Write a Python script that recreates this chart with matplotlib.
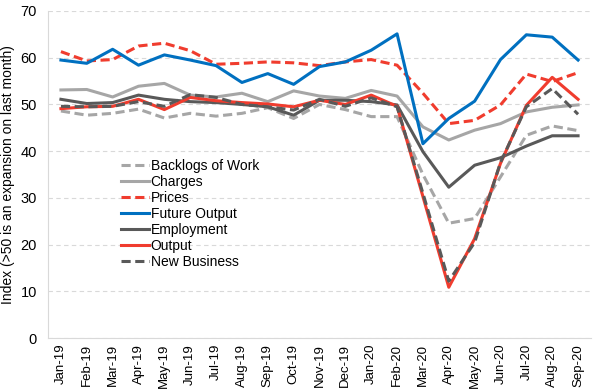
import matplotlib
matplotlib.use("Agg")
import matplotlib.pyplot as plt
import numpy as np

plt.rcParams['font.family'] = ['Liberation Sans', 'DejaVu Sans']

months = ['Jan-19', 'Feb-19', 'Mar-19', 'Apr-19', 'May-19', 'Jun-19', 'Jul-19',
          'Aug-19', 'Sep-19', 'Oct-19', 'Nov-19', 'Dec-19', 'Jan-20', 'Feb-20',
          'Mar-20', 'Apr-20', 'May-20', 'Jun-20', 'Jul-20', 'Aug-20', 'Sep-20']

backlogs = [48.6, 47.7, 48.1, 49.0, 47.1, 48.1, 47.5, 48.1, 49.3, 47.0, 50.0,
            48.9, 47.4, 47.4, 35.0, 24.6, 25.6, 34.5, 43.4, 45.4, 44.4]
charges = [53.1, 53.2, 51.6, 53.9, 54.5, 52.0, 51.6, 52.4, 50.6, 52.9, 51.8,
           51.3, 53.0, 51.8, 45.2, 42.4, 44.5, 45.9, 48.4, 49.4, 49.9]
prices = [61.3, 59.3, 59.6, 62.5, 63.1, 61.5, 58.6, 58.8, 59.1, 58.9, 58.3,
          59.1, 59.6, 58.4, 52.4, 45.9, 46.6, 49.9, 56.5, 54.9, 56.8]
future_output = [59.5, 58.8, 61.8, 58.4, 60.6, 59.5, 58.3, 54.7, 56.6, 54.3, 58.1,
                 59.1, 61.6, 65.1, 41.6, 47.0, 50.7, 59.6, 64.9, 64.4, 59.5]
employment = [51.1, 50.2, 50.4, 52.0, 51.1, 50.6, 50.4, 50.0, 49.5, 47.7, 50.9,
              50.9, 50.6, 49.9, 39.9, 32.3, 37.0, 38.6, 41.1, 43.3, 43.3]
output = [49.1, 49.5, 49.6, 51.1, 48.9, 51.5, 50.8, 50.4, 50.1, 49.5, 50.9,
          50.0, 52.0, 49.6, 30.3, 10.9, 21.3, 37.4, 49.8, 55.8, 51.1]
new_business = [49.6, 49.5, 49.6, 50.6, 49.6, 52.1, 51.5, 50.0, 49.5, 48.8, 51.1,
                49.6, 51.4, 49.5, 31.0, 12.2, 20.5, 37.6, 49.5, 53.4, 47.9]

x = np.arange(len(months))

fig = plt.figure(figsize=(6, 3.91), dpi=100)
ax = fig.add_axes([0.08, 0.135, 0.905, 0.837])

lw = 2.2
ax.plot(x, backlogs, color='#A6A6A6', lw=lw, ls=(0, (3, 1.5)), label='Backlogs of Work')
ax.plot(x, charges, color='#A6A6A6', lw=lw, label='Charges')
ax.plot(x, prices, color='#F03C2E', lw=lw, ls=(0, (3, 1.5)), label='Prices')
ax.plot(x, future_output, color='#0070C0', lw=lw, label='Future Output')
ax.plot(x, employment, color='#595959', lw=lw, label='Employment')
ax.plot(x, output, color='#F03C2E', lw=lw, label='Output')
ax.plot(x, new_business, color='#595959', lw=lw, ls=(0, (3, 1.5)), label='New Business')

ax.set_xlim(-0.5, len(months) - 0.5)
ax.set_ylim(0, 70)
ax.set_yticks(range(0, 71, 10))
ax.set_xticks(x)
ax.set_xticklabels(months, rotation=90, fontsize=9.5)
ax.tick_params(axis='y', labelsize=10.5, length=0, pad=8)
ax.tick_params(axis='x', length=0, pad=4)
ax.grid(axis='y', color='#D9D9D9', ls=(0, (4, 3)), lw=0.8)
ax.set_axisbelow(True)
for s in ['top', 'right']:
    ax.spines[s].set_visible(False)
ax.spines['left'].set_color('#D9D9D9')
ax.spines['bottom'].set_color('#D9D9D9')
ax.set_ylabel('Index (>50 is an expansion on last month)', fontsize=10, labelpad=4)

ax.legend(loc='upper left', bbox_to_anchor=(0.125, 0.565), frameon=False,
          fontsize=10, handlelength=2.0, handletextpad=0.1, labelspacing=0.14,
          borderaxespad=0)

fig.savefig('out.png', dpi=100)
